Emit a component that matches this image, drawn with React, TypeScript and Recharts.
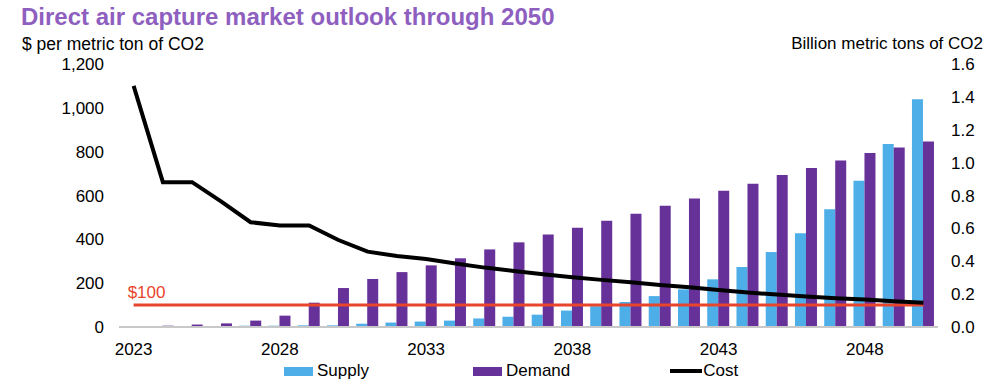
import { Bar, ComposedChart, Legend, Line, ReferenceLine, XAxis, YAxis } from 'recharts';

const years = [
  2023, 2024, 2025, 2026, 2027, 2028, 2029, 2030, 2031, 2032, 2033, 2034, 2035, 2036,
  2037, 2038, 2039, 2040, 2041, 2042, 2043, 2044, 2045, 2046, 2047, 2048, 2049, 2050,
];

// billion metric tons of CO2
const supply = [
  0.003, 0.003, 0.004, 0.005, 0.008, 0.008, 0.01, 0.01, 0.02, 0.027, 0.033, 0.039, 0.052, 0.063,
  0.075, 0.1, 0.126, 0.152, 0.188, 0.229, 0.29, 0.365, 0.456, 0.57, 0.716, 0.89, 1.113, 1.386,
];
const demand = [
  0.002, 0.008, 0.015, 0.022, 0.039, 0.069, 0.148, 0.237, 0.292, 0.334, 0.375, 0.418, 0.472, 0.515,
  0.563, 0.604, 0.647, 0.689, 0.738, 0.781, 0.829, 0.872, 0.924, 0.967, 1.013, 1.058, 1.092, 1.129,
];

// $ per metric ton of CO2
const cost = [
  1100, 661, 661, 572, 478, 463, 463, 397, 344, 324, 310, 290, 271, 256,
  241, 227, 215, 204, 192, 181, 169, 157, 148, 139, 131, 125, 117, 111,
];

const costTicks = [0, 200, 400, 600, 800, 1000, 1200];
const volumeTicks = [0, 0.2, 0.4, 0.6, 0.8, 1.0, 1.2, 1.4, 1.6];
const target = 100;

const SUPPLY = '#4daee8';
const DEMAND = '#67319a';
const RED = '#e8452c';
const FONT = '"Liberation Sans", Arial, sans-serif';

const data = years.map((year, i) => ({
  year,
  supply: supply[i],
  demand: demand[i],
  cost: cost[i],
}));

function LegendRow() {
  const text = { fontSize: 17, color: '#000', marginLeft: 4 };
  return (
    <div style={{ display: 'flex', alignItems: 'center', height: 24, paddingLeft: 284, fontFamily: FONT }}>
      <span style={{ width: 29, height: 9, background: SUPPLY, display: 'inline-block' }} />
      <span style={text}>Supply</span>
      <span style={{ width: 29, height: 9, background: DEMAND, display: 'inline-block', marginLeft: 104 }} />
      <span style={text}>Demand</span>
      <span style={{ width: 32, height: 4, background: '#000', display: 'inline-block', marginLeft: 100 }} />
      <span style={{ ...text, marginLeft: 1 }}>Cost</span>
    </div>
  );
}

export default function App() {
  const tick = { fill: '#000', fontSize: 17, fontFamily: FONT };
  return (
    <div style={{ position: 'absolute', left: 0, top: 0, width: 1000, height: 383, background: '#fff', fontFamily: FONT }}>
      <div style={{ position: 'absolute', left: 21, top: 3, fontSize: 24, fontWeight: 700, color: '#8e5fbf' }}>
        Direct air capture market outlook through 2050
      </div>
      <div style={{ position: 'absolute', left: 22, top: 34, fontSize: 17.5, color: '#000' }}>$ per metric ton of CO2</div>
      <div style={{ position: 'absolute', right: 17, top: 34, fontSize: 17, color: '#000' }}>Billion metric tons of CO2</div>
      <ComposedChart
        width={1000}
        height={383}
        data={data}
        margin={{ top: 64, right: 0, left: 0, bottom: 0 }}
        barCategoryGap="11%"
        barGap={0}
      >
        <XAxis
          dataKey="year"
          interval={4}
          tickSize={0}
          tickMargin={16}
          height={32}
          tick={tick}
          axisLine={{ stroke: '#c8c8c8', strokeWidth: 2 }}
        />
        <YAxis
          yAxisId="left"
          domain={[0, 1200]}
          ticks={costTicks}
          width={119}
          tickSize={0}
          tickMargin={15}
          axisLine={false}
          tick={tick}
          tickFormatter={(v: number) => v.toLocaleString('en-US')}
        />
        <YAxis
          yAxisId="right"
          orientation="right"
          domain={[0, 1.6]}
          ticks={volumeTicks}
          width={62}
          tickSize={0}
          tickMargin={13}
          axisLine={false}
          tick={tick}
          tickFormatter={(v: number) => v.toFixed(1)}
        />
        <Legend verticalAlign="bottom" content={() => <LegendRow />} />
        <Bar yAxisId="right" dataKey="supply" name="Supply" fill={SUPPLY} isAnimationActive={false} />
        <Bar yAxisId="right" dataKey="demand" name="Demand" fill={DEMAND} isAnimationActive={false} />
        <ReferenceLine
          yAxisId="left"
          segment={[
            { x: years[0], y: target },
            { x: years[years.length - 1], y: target },
          ]}
          stroke={RED}
          strokeWidth={3}
          label={(props: any) => (
            <text
              x={props.viewBox.x - 6}
              y={props.viewBox.y - 7}
              fill={RED}
              fontSize={17}
              fontFamily={FONT}
            >
              $100
            </text>
          )}
        />
        <Line
          yAxisId="left"
          dataKey="cost"
          name="Cost"
          stroke="#000"
          strokeWidth={4}
          dot={false}
          type="linear"
          isAnimationActive={false}
        />
      </ComposedChart>
    </div>
  );
}
